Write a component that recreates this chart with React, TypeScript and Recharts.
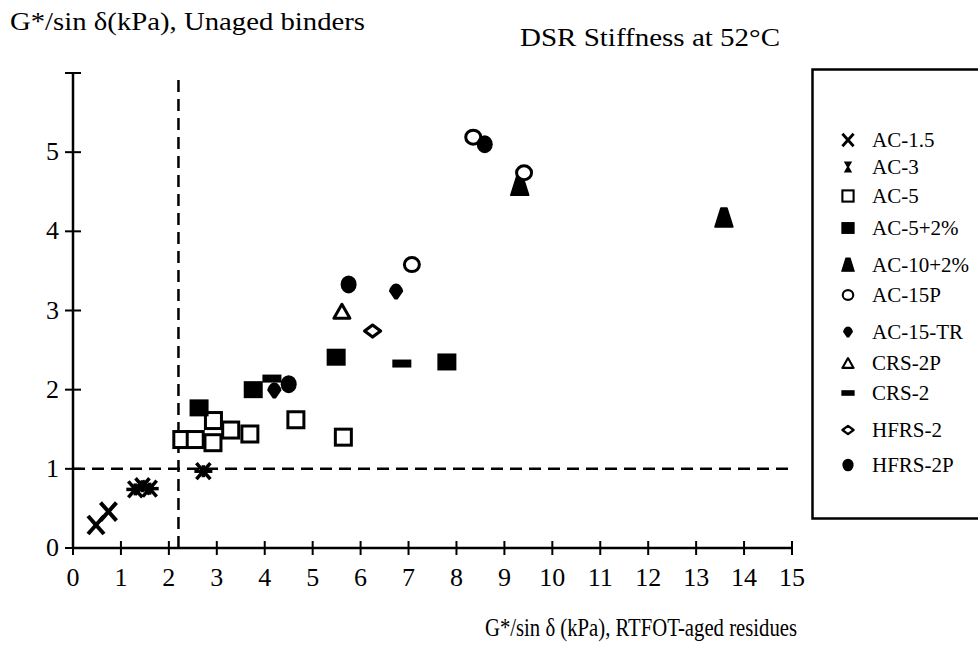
import React from 'react';
import { ScatterChart, Scatter, XAxis, YAxis, ReferenceLine, Legend, Label } from 'recharts';

const FONT = 'Liberation Serif';

// RTFOT-aged residue (x) vs unaged binder (y) G*/sin δ, kPa
const ac1_5 = [{ x: 0.48, y: 0.29 }, { x: 0.74, y: 0.46 }];
const ac3 = [{ x: 1.3, y: 0.74 }, { x: 1.45, y: 0.78 }, { x: 1.6, y: 0.75 }, { x: 2.72, y: 0.97 }];
const ac5 = [
  { x: 2.27, y: 1.37 }, { x: 2.55, y: 1.37 }, { x: 2.92, y: 1.33 }, { x: 2.93, y: 1.61 },
  { x: 3.29, y: 1.49 }, { x: 3.69, y: 1.44 }, { x: 4.65, y: 1.62 }, { x: 5.64, y: 1.4 },
];
const ac5p2 = [{ x: 2.63, y: 1.77 }, { x: 3.76, y: 2.0 }, { x: 5.49, y: 2.41 }, { x: 7.8, y: 2.35 }];
const ac10p2 = [{ x: 9.32, y: 4.57 }, { x: 13.58, y: 4.17 }];
const ac15p = [{ x: 7.07, y: 3.58 }, { x: 8.35, y: 5.19 }, { x: 9.41, y: 4.74 }];
const ac15tr = [{ x: 6.74, y: 3.24 }, { x: 4.2, y: 1.99 }];
const crs2p = [{ x: 5.61, y: 2.99 }];
const crs2 = [{ x: 6.86, y: 2.33 }, { x: 4.15, y: 2.14 }];
const hfrs2 = [{ x: 6.25, y: 2.74 }];
const hfrs2p = [{ x: 5.75, y: 3.33 }, { x: 8.59, y: 5.1 }, { x: 4.5, y: 2.07 }];

const seriesNames = ['AC-1.5', 'AC-3', 'AC-5', 'AC-5+2%', 'AC-10+2%', 'AC-15P', 'AC-15-TR', 'CRS-2P', 'CRS-2', 'HFRS-2', 'HFRS-2P'];
const seriesKinds = ['x', 'star', 'osq', 'fsq', 'ftri', 'ocirc', 'drop', 'otri', 'bar', 'odiam', 'fcirc'];
const seriesData = [ac1_5, ac3, ac5, ac5p2, ac10p2, ac15p, ac15tr, crs2p, crs2, hfrs2, hfrs2p];

const xTicks = [0, 1, 2, 3, 4, 5, 6, 7, 8, 9, 10, 11, 12, 13, 14, 15];
const yTicks = [0, 1, 2, 3, 4, 5, 6];
const yTickLabels = ['0', '1', '2', '3', '4', '5', ''];
const limitX = 2.2;
const limitY = 1;

function Marker({ kind, cx, cy, s = 1 }: { kind: string; cx: number; cy: number; s?: number }) {
  const k = '#000';
  switch (kind) {
    case 'x':
      return (
        <g stroke={k} strokeWidth={4 * s} strokeLinecap="butt">
          <line x1={cx - 8 * s} y1={cy - 9 * s} x2={cx + 8 * s} y2={cy + 9 * s} />
          <line x1={cx - 8 * s} y1={cy + 9 * s} x2={cx + 8 * s} y2={cy - 9 * s} />
        </g>
      );
    case 'star':
      if (s < 1) {
        return (
          <path d={`M${cx - 6 * s} ${cy - 8 * s} L${cx + 6 * s} ${cy - 8 * s} L${cx + 1.5 * s} ${cy} L${cx + 6 * s} ${cy + 8 * s} L${cx - 6 * s} ${cy + 8 * s} L${cx - 1.5 * s} ${cy} Z`} fill={k} />
        );
      }
      return (
        <g stroke={k} strokeWidth={3.5} strokeLinecap="butt">
          <line x1={cx - 7} y1={cy - 8} x2={cx + 7} y2={cy + 8} />
          <line x1={cx - 7} y1={cy + 8} x2={cx + 7} y2={cy - 8} />
          <line x1={cx - 9} y1={cy} x2={cx + 9} y2={cy} />
          <line x1={cx} y1={cy - 6} x2={cx} y2={cy + 6} />
        </g>
      );
    case 'osq':
      return <rect x={cx - 8 * s} y={cy - 8 * s} width={16 * s} height={16 * s} fill="#fff" stroke={k} strokeWidth={3 * s} />;
    case 'fsq':
      return <rect x={cx - 9.5 * s} y={cy - 8.5 * s} width={19 * s} height={17 * s} fill={k} />;
    case 'ftri':
      return (
        <path d={`M${cx - 3 * s} ${cy - 10 * s} L${cx + 3 * s} ${cy - 10 * s} L${cx + 9 * s} ${cy + 9 * s} L${cx - 9 * s} ${cy + 9 * s} Z`} fill={k} stroke={k} strokeWidth={1.5 * s} strokeLinejoin="round" />
      );
    case 'ocirc':
      return <ellipse cx={cx} cy={cy} rx={7.5 * s} ry={7 * s} fill="#fff" stroke={k} strokeWidth={3 * s} />;
    case 'drop':
      return (
        <path d={`M${cx} ${cy - 8 * s} C${cx + 4 * s} ${cy - 8 * s} ${cx + 7 * s} ${cy - 3 * s} ${cx + 7 * s} ${cy} L${cx + 1.5 * s} ${cy + 8 * s} L${cx - 1.5 * s} ${cy + 8 * s} L${cx - 7 * s} ${cy} C${cx - 7 * s} ${cy - 3 * s} ${cx - 4 * s} ${cy - 8 * s} ${cx} ${cy - 8 * s} Z`} fill={k} />
      );
    case 'otri':
      return (
        <path d={`M${cx} ${cy - 7 * s} L${cx + 8 * s} ${cy + 7 * s} L${cx - 8 * s} ${cy + 7 * s} Z`} fill="#fff" stroke={k} strokeWidth={3 * s} strokeLinejoin="round" />
      );
    case 'bar':
      return <rect x={cx - 9.5 * s} y={cy - 4 * s} width={19 * s} height={8 * s} fill={k} />;
    case 'odiam':
      return (
        <path d={`M${cx} ${cy - 6 * s} L${cx + 8 * s} ${cy} L${cx} ${cy + 6 * s} L${cx - 8 * s} ${cy} Z`} fill="#fff" stroke={k} strokeWidth={3.2 * s} strokeLinejoin="round" />
      );
    case 'fcirc':
      return <ellipse cx={cx} cy={cy} rx={8 * s} ry={9 * s} fill={k} />;
    default:
      return null;
  }
}

function XTick(props: any) {
  const { x, y, payload } = props;
  return (
    <g>
      <line x1={x} x2={x} y1={y - 7} y2={y + 7} stroke="#000" strokeWidth={2} />
      <text x={x} y={y + 38} textAnchor="middle" fontSize={26} fontFamily={FONT} fill="#000">
        {payload.value}
      </text>
    </g>
  );
}

function YTick(props: any) {
  const { x, y, payload, index } = props;
  const label = yTickLabels[index] ?? String(payload.value);
  return (
    <g>
      <line x1={x - 8} x2={x + 8} y1={y} y2={y} stroke="#000" strokeWidth={2} />
      <text x={x - 14} y={y + 8} textAnchor="end" fontSize={26} fontFamily={FONT} fill="#000">
        {label}
      </text>
    </g>
  );
}

function LegendBox() {
  const rowY = [72, 99, 128, 160, 197, 227, 264, 295, 325, 362, 397];
  return (
    <svg width={167} height={452} style={{ display: 'block', overflow: 'visible' }}>
      <path d="M167 1.5 L1.5 1.5 L1.5 450.5 L167 450.5" fill="none" stroke="#000" strokeWidth={2.5} />
      {seriesNames.map((n, i) => (
        <g key={n}>
          <Marker kind={seriesKinds[i]} cx={37} cy={rowY[i]} s={0.7} />
          <text x={61} y={rowY[i] + 7} fontSize={21} fontFamily={FONT} fill="#000">
            {n}
          </text>
        </g>
      ))}
    </svg>
  );
}

export default function App() {
  return (
    <div style={{ position: 'absolute', left: 0, top: 0, width: 978, height: 651, background: '#fff', fontFamily: FONT }}>
      <ScatterChart width={978} height={651} margin={{ top: 73, right: 186, bottom: 43, left: 33 }}>
        <XAxis
          type="number"
          dataKey="x"
          domain={[0, 15]}
          ticks={xTicks}
          interval={0}
          height={60}
          axisLine={{ stroke: '#000', strokeWidth: 2.5 }}
          tickLine={false}
          tickSize={0}
          tickMargin={0}
          tick={<XTick />}
        >
          <Label
            content={() => (
              <text x={797} y={636} textAnchor="end" fontSize={26} fontFamily={FONT} fill="#000" textLength={312} lengthAdjust="spacingAndGlyphs">
                G*/sin δ (kPa), RTFOT-aged residues
              </text>
            )}
          />
        </XAxis>
        <YAxis
          type="number"
          dataKey="y"
          domain={[0, 6]}
          ticks={yTicks}
          interval={0}
          width={40}
          axisLine={{ stroke: '#000', strokeWidth: 2.5 }}
          tickLine={false}
          tickSize={0}
          tickMargin={0}
          tick={<YTick />}
        >
          <Label
            content={() => (
              <g>
                <text x={10} y={30} fontSize={26} fontFamily={FONT} fill="#000" textLength={355} lengthAdjust="spacingAndGlyphs">
                  G*/sin δ(kPa), Unaged binders
                </text>
                <text x={520} y={46} fontSize={25} fontFamily={FONT} fill="#000" textLength={260} lengthAdjust="spacingAndGlyphs">
                  DSR Stiffness at 52°C
                </text>
              </g>
            )}
          />
        </YAxis>
        <ReferenceLine y={limitY} stroke="#000" strokeWidth={2.5} strokeDasharray="12 7" />
        <ReferenceLine x={limitX} stroke="#000" strokeWidth={2.5} strokeDasharray="12 7" />
        {seriesData.map((d, i) => (
          <Scatter
            key={seriesNames[i]}
            name={seriesNames[i]}
            data={d}
            isAnimationActive={false}
            shape={(p: any) => <Marker kind={seriesKinds[i]} cx={p.cx} cy={p.cy} />}
          />
        ))}
        <Legend
          layout="vertical"
          align="center"
          verticalAlign="middle"
          content={() => <LegendBox />}
          wrapperStyle={{ left: 811, top: 68, width: 167, height: 452 }}
        />
      </ScatterChart>
    </div>
  );
}
